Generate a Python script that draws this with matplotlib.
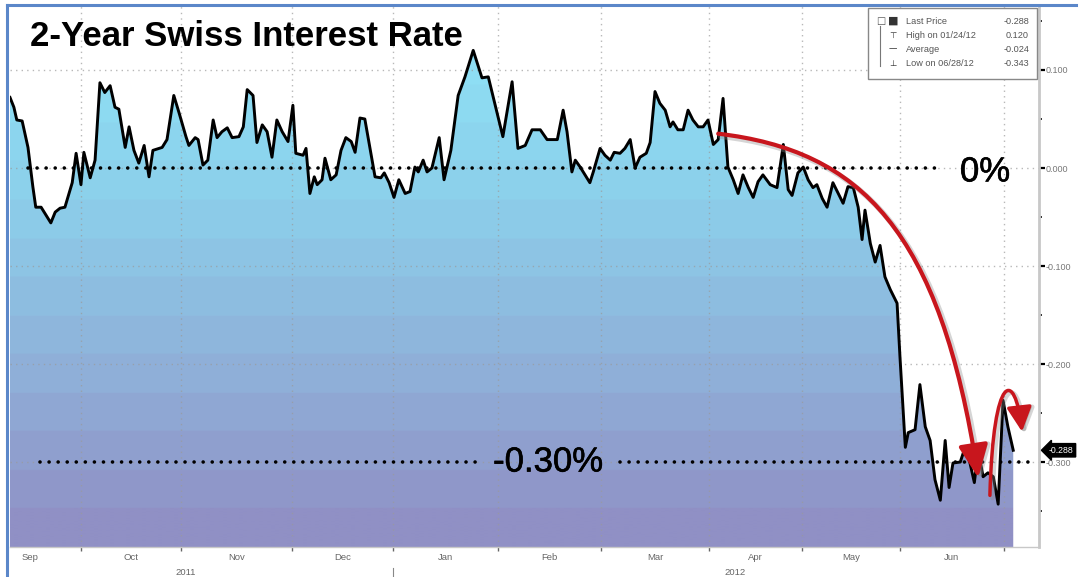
import numpy as np
import matplotlib
matplotlib.use("Agg")
import matplotlib.pyplot as plt
from matplotlib.patches import FancyArrowPatch, Rectangle
from matplotlib.path import Path
from matplotlib.colors import LinearSegmentedColormap
import matplotlib.patheffects as pe
import matplotlib.transforms as mtransforms

# ---------------- data ----------------
# x = trading-day index from the first observation (mid Sep 2011), y = yield in %
days = [0.0, 0.8, 1.4, 2.5, 3.7, 4.7, 5.3, 6.4, 7.4, 8.4, 9.3, 10.3, 11.3, 12.8, 13.6,
        14.6, 15.2, 16.5, 17.5, 18.5, 19.5, 20.6, 21.6, 22.4, 23.7, 24.5, 25.5, 26.5,
        27.6, 28.6, 29.4, 31.3, 32.3, 33.7, 34.8, 36.2, 36.8, 38.1, 38.7, 39.7, 40.7,
        41.8, 42.6, 43.6, 44.7, 45.7, 47.1, 48.0, 48.8, 50.0, 50.8, 51.9, 52.9, 53.9,
        54.9, 56.0, 57.2, 58.2, 58.8, 60.3, 60.9, 61.7, 62.6, 63.2, 64.2, 64.8, 66.0,
        67.1, 68.1, 69.1, 70.2, 71.0, 72.0, 73.0, 75.1, 76.3, 77.0, 78.0, 79.0, 80.0,
        81.3, 82.3, 83.3, 84.0, 85.0, 85.8, 86.8, 88.3, 89.3, 90.7, 92.2, 93.6, 95.3,
        97.1, 98.4, 101.4, 103.3, 104.5, 106.0, 107.4, 109.1, 110.5, 111.5, 112.6,
        113.8, 114.6, 115.6, 116.3, 117.3, 118.3, 119.3, 120.0, 121.4, 122.4, 123.5,
        124.3, 125.5, 126.5, 127.6, 128.6, 129.6, 130.9, 131.7, 132.7, 133.7, 134.8,
        135.8, 136.4, 137.4, 138.5, 139.5, 140.5, 141.6, 142.6, 143.6, 144.7, 145.7,
        146.7, 147.7, 148.8, 149.8, 150.8, 151.9, 152.9, 153.9, 154.9, 156.4, 157.8,
        159.1, 160.1, 160.9, 162.1, 163.2, 164.2, 165.2, 166.0, 167.1, 168.1, 169.3,
        170.4, 171.4, 172.4, 173.5, 174.5, 175.3, 175.9, 177.0, 178.0, 179.0, 180.0,
        181.1, 182.5, 183.1, 184.2, 184.8, 186.2, 187.2, 188.3, 189.3, 190.3, 191.4,
        192.4, 193.2, 194.0, 195.5, 196.5, 197.5, 198.4, 199.2, 200.2, 201.2, 202.3,
        203.3, 204.3, 205.3, 206.4]
rate = [0.072, 0.062, 0.049, 0.048, 0.021, -0.019, -0.040, -0.040, -0.048, -0.056,
        -0.045, -0.041, -0.040, -0.015, 0.015, -0.017, 0.016, -0.010, 0.008, 0.087,
        0.077, 0.084, 0.062, 0.060, 0.021, 0.042, 0.018, 0.005, 0.023, -0.009, 0.018,
        0.021, 0.029, 0.074, 0.056, 0.032, 0.023, 0.031, 0.029, 0.003, 0.008, 0.049,
        0.031, 0.037, 0.041, 0.031, 0.032, 0.042, 0.080, 0.074, 0.026, 0.044, 0.037,
        0.011, 0.049, 0.037, 0.027, 0.064, 0.015, 0.013, 0.020, -0.026, -0.009,
        -0.017, -0.012, 0.010, -0.012, -0.007, 0.018, 0.031, 0.027, 0.016, 0.051,
        0.050, -0.009, -0.010, -0.005, -0.015, -0.030, -0.012, -0.026, -0.024, 0.001,
        -0.004, 0.008, -0.004, 0.000, 0.031, -0.012, 0.018, 0.074, 0.093, 0.120,
        0.092, 0.093, 0.032, 0.088, 0.020, 0.023, 0.039, 0.039, 0.029, 0.029, 0.029,
        0.059, 0.037, -0.004, 0.008, 0.001, -0.007, -0.015, -0.004, 0.020, 0.013,
        0.008, 0.016, 0.015, 0.020, 0.029, 0.000, 0.011, 0.015, 0.026, 0.078, 0.066,
        0.059, 0.042, 0.047, 0.039, 0.039, 0.059, 0.049, 0.042, 0.042, 0.049, 0.024,
        0.029, 0.071, 0.001, -0.012, -0.026, -0.007, -0.020, -0.030, -0.014, -0.007,
        -0.017, -0.020, 0.024, -0.022, -0.028, -0.005, 0.001, -0.012, -0.020, -0.017,
        -0.031, -0.040, -0.015, -0.026, -0.036, -0.019, -0.020, -0.040, -0.073,
        -0.043, -0.077, -0.096, -0.079, -0.111, -0.124, -0.138, -0.193, -0.285,
        -0.270, -0.267, -0.221, -0.264, -0.278, -0.318, -0.339, -0.278, -0.326,
        -0.301, -0.300, -0.285, -0.301, -0.321, -0.288, -0.315, -0.311, -0.315,
        -0.343, -0.237, -0.264, -0.288]

month_starts = [14.6, 35.2, 58.0, 78.8, 100.4, 121.6, 143.8, 163.0, 183.1, 204.5]
month_labels = ["Sep", "Oct", "Nov", "Dec", "Jan", "Feb", "Mar", "Apr", "May", "Jun"]
year_labels = ["2011", "2012"]
y_ticks = [0.1, 0.0, -0.1, -0.2, -0.3]
y_tick_labels = ["0.100", "0.000", "-0.100", "-0.200", "-0.300"]

legend_names = ["Last Price", "High on 01/24/12", "Average", "Low on 06/28/12"]
legend_values = ["-0.288", "0.120", "-0.024", "-0.343"]
last_price = -0.288

title = "2-Year Swiss Interest Rate"

# ---------------- figure ----------------
W, H = 1081, 577
fig = plt.figure(figsize=(W / 100, H / 100), dpi=100)
fig.patch.set_facecolor("white")

def fx(px):
    return px / W

def fy(py):
    return 1 - py / H

ax = fig.add_axes([fx(10), fy(547), fx(1039) - fx(10), fy(6) - fy(547)])
x0, x1 = 0.0, 211.7
y0, y1 = -0.3867, 0.1653
ax.set_xlim(x0, x1)
ax.set_ylim(y0, y1)
ax.set_facecolor("white")

# gradient fill under the line (banded like the original)
poly = ax.fill_between(days, rate, y0, facecolor="none", edgecolor="none")
cmap = LinearSegmentedColormap.from_list(
    "g", ["#9090c5", "#8fb2da", "#8cd0eb", "#8fe3f7"])
nb = 14
grad = np.linspace(0, 1, 400)
grad = np.floor(grad * nb) / (nb - 1)
grad = np.clip(grad, 0, 1)[::-1].reshape(-1, 1)
im = ax.imshow(grad, cmap=cmap, extent=[x0, x1, y0, y1], aspect="auto",
               origin="upper", zorder=1, interpolation="bilinear")
im.set_clip_path(poly.get_paths()[0], transform=ax.transData)

# grid
for m in month_starts:
    ax.axvline(m, color="#9a9a9a", lw=1.0, ls=(0, (1, 3)), alpha=0.7, zorder=1.5)
for yt in y_ticks:
    ax.axhline(yt, color="#9a9a9a", lw=1.0, ls=(0, (1, 3)), alpha=0.7, zorder=1.5)

# price line
ax.plot(days, rate, color="black", lw=2.1, solid_joinstyle="round", zorder=3)

# reference dotted lines
dot_kw = dict(color="black", lw=2.6, ls=(0, (0.01, 2.5)), dash_capstyle="round", zorder=4)
ax.plot([3.7, 190.9], [0.0, 0.0], **dot_kw)
ax.plot([6.2, 96.3], [-0.30, -0.30], **dot_kw)
ax.plot([125.5, 210.5], [-0.30, -0.30], **dot_kw)
bolden = [pe.withStroke(linewidth=0.45, foreground="black")]
ax.text(200.6, -0.004, "0%", fontsize=25, family="Liberation Sans",
        ha="center", va="center", zorder=6, path_effects=bolden)
ax.text(110.7, -0.300, "-0.30%", fontsize=25, family="Liberation Sans",
        ha="center", va="center", zorder=6, path_effects=bolden)

# red arrows (with a soft offset shadow)
red = "#c8161d"
big = Path([(145.7, 0.035), (174.9, 0.018), (191.4, -0.063), (199.2, -0.316)],
           [Path.MOVETO, Path.CURVE4, Path.CURVE4, Path.CURVE4])
small = Path([(201.6, -0.334), (202.3, -0.206), (206.8, -0.206), (208.2, -0.269)],
             [Path.MOVETO, Path.CURVE4, Path.CURVE4, Path.CURVE4])
shadow_tr = mtransforms.offset_copy(ax.transData, fig=fig, x=2.5, y=-2.5, units="dots")
for path, hl, hw, lw in [(big, 1.0, 0.45, 3.0), (small, 0.75, 0.38, 2.5)]:
    style = f"-|>,head_length={hl},head_width={hw}"
    sh = FancyArrowPatch(path=path, arrowstyle=style, mutation_scale=20, lw=lw + 1,
                         color="#888888", alpha=0.35, transform=shadow_tr, zorder=6.5)
    ax.add_patch(sh)
    arr = FancyArrowPatch(path=path, arrowstyle=style, mutation_scale=20, lw=lw,
                          color=red, transform=ax.transData, zorder=7)
    ax.add_patch(arr)

# axes styling
for s in ["left", "top"]:
    ax.spines[s].set_visible(False)
ax.spines["right"].set_color("#c8c8c8")
ax.spines["right"].set_linewidth(2)
ax.spines["bottom"].set_color("#c8c8c8")
ax.spines["bottom"].set_linewidth(1)

ax.set_xticks(month_starts)
ax.set_xticklabels([])
ax.tick_params(axis="x", length=3, width=1, color="#666666")
ax.yaxis.tick_right()
ax.set_yticks(y_ticks)
ax.set_yticklabels(y_tick_labels)
ax.set_yticks([0.15, 0.05, -0.05, -0.15, -0.25, -0.35], minor=True)
ax.tick_params(axis="y", which="major", direction="out", length=4, width=1.6,
               color="black", labelsize=6.5, labelcolor="#777777", pad=1)
ax.tick_params(axis="y", which="minor", direction="out", length=2, width=1.4,
               color="#333333")
for lbl in ax.get_yticklabels():
    lbl.set_family("Liberation Sans")

# month labels, centred in each month
starts = [month_starts[0] - 21.0] + month_starts
for i, name in enumerate(month_labels):
    xc = (starts[i] + starts[i + 1]) / 2
    ax.text(xc, -0.019, name, transform=ax.get_xaxis_transform(), fontsize=6.8,
            color="#666666", ha="center", va="center", family="Liberation Sans")
jan = month_starts[3]
ax.text((starts[0] + jan) / 2, -0.047, year_labels[0], transform=ax.get_xaxis_transform(),
        fontsize=6.8, color="#666666", ha="center", va="center", family="Liberation Sans")
ax.text((jan + x1) / 2 + 4, -0.047, year_labels[1], transform=ax.get_xaxis_transform(),
        fontsize=6.8, color="#666666", ha="center", va="center", family="Liberation Sans")
ax.plot([jan, jan], [-0.038, -0.06], transform=ax.get_xaxis_transform(),
        color="#888888", lw=0.8, clip_on=False)

# last price tag
ax.annotate(f"{last_price:.3f}", xy=(1.0, last_price), xycoords=("axes fraction", "data"),
            xytext=(7, 0), textcoords="offset points", fontsize=6.3, color="white",
            ha="left", va="center", family="Liberation Sans", annotation_clip=False,
            bbox=dict(boxstyle="larrow,pad=0.25", fc="black", ec="black"), zorder=8)

# title
fig.text(fx(30), fy(36), title, fontsize=25, fontweight="bold",
         family="Liberation Sans", ha="left", va="center")

# legend box
fig.patches.append(Rectangle((fx(868), fy(79)), fx(1037) - fx(868), fy(8) - fy(79),
                             transform=fig.transFigure, fc="white", ec="#888888",
                             lw=1, zorder=9))
rows = [21, 35, 49, 64]
icons = ["\u25a0", "\u22a4", "\u2014", "\u22a5"]
for r, name, val, ic in zip(rows, legend_names, legend_values, icons):
    fig.text(fx(906), fy(r), name, fontsize=6.6, color="#555555", ha="left",
             va="center", family="Liberation Sans", zorder=10)
    fig.text(fx(1029), fy(r), val, fontsize=6.6, color="#555555", ha="right",
             va="center", family="Liberation Sans", zorder=10)
    fig.text(fx(893), fy(r), ic, fontsize=6.0 if ic != "\u25a0" else 8, color="#333333",
             ha="center", va="center", family="DejaVu Sans", zorder=10)
fig.text(fx(881), fy(21), "\u25a1", fontsize=7, color="#555555", ha="center",
         va="center", family="DejaVu Sans", zorder=10)
fig.lines.append(plt.Line2D([fx(880), fx(880)], [fy(26), fy(66)],
                            transform=fig.transFigure, color="#777777", lw=0.8, zorder=10))

# blue frame (top and left)
fig.lines.append(plt.Line2D([fx(7), fx(1076)], [fy(5), fy(5)], transform=fig.transFigure,
                            color="#5b87c9", lw=2.2, zorder=11))
fig.lines.append(plt.Line2D([fx(7), fx(7)], [fy(5), fy(577)], transform=fig.transFigure,
                            color="#5b87c9", lw=2.2, zorder=11))

fig.savefig("out.png", dpi=100)
